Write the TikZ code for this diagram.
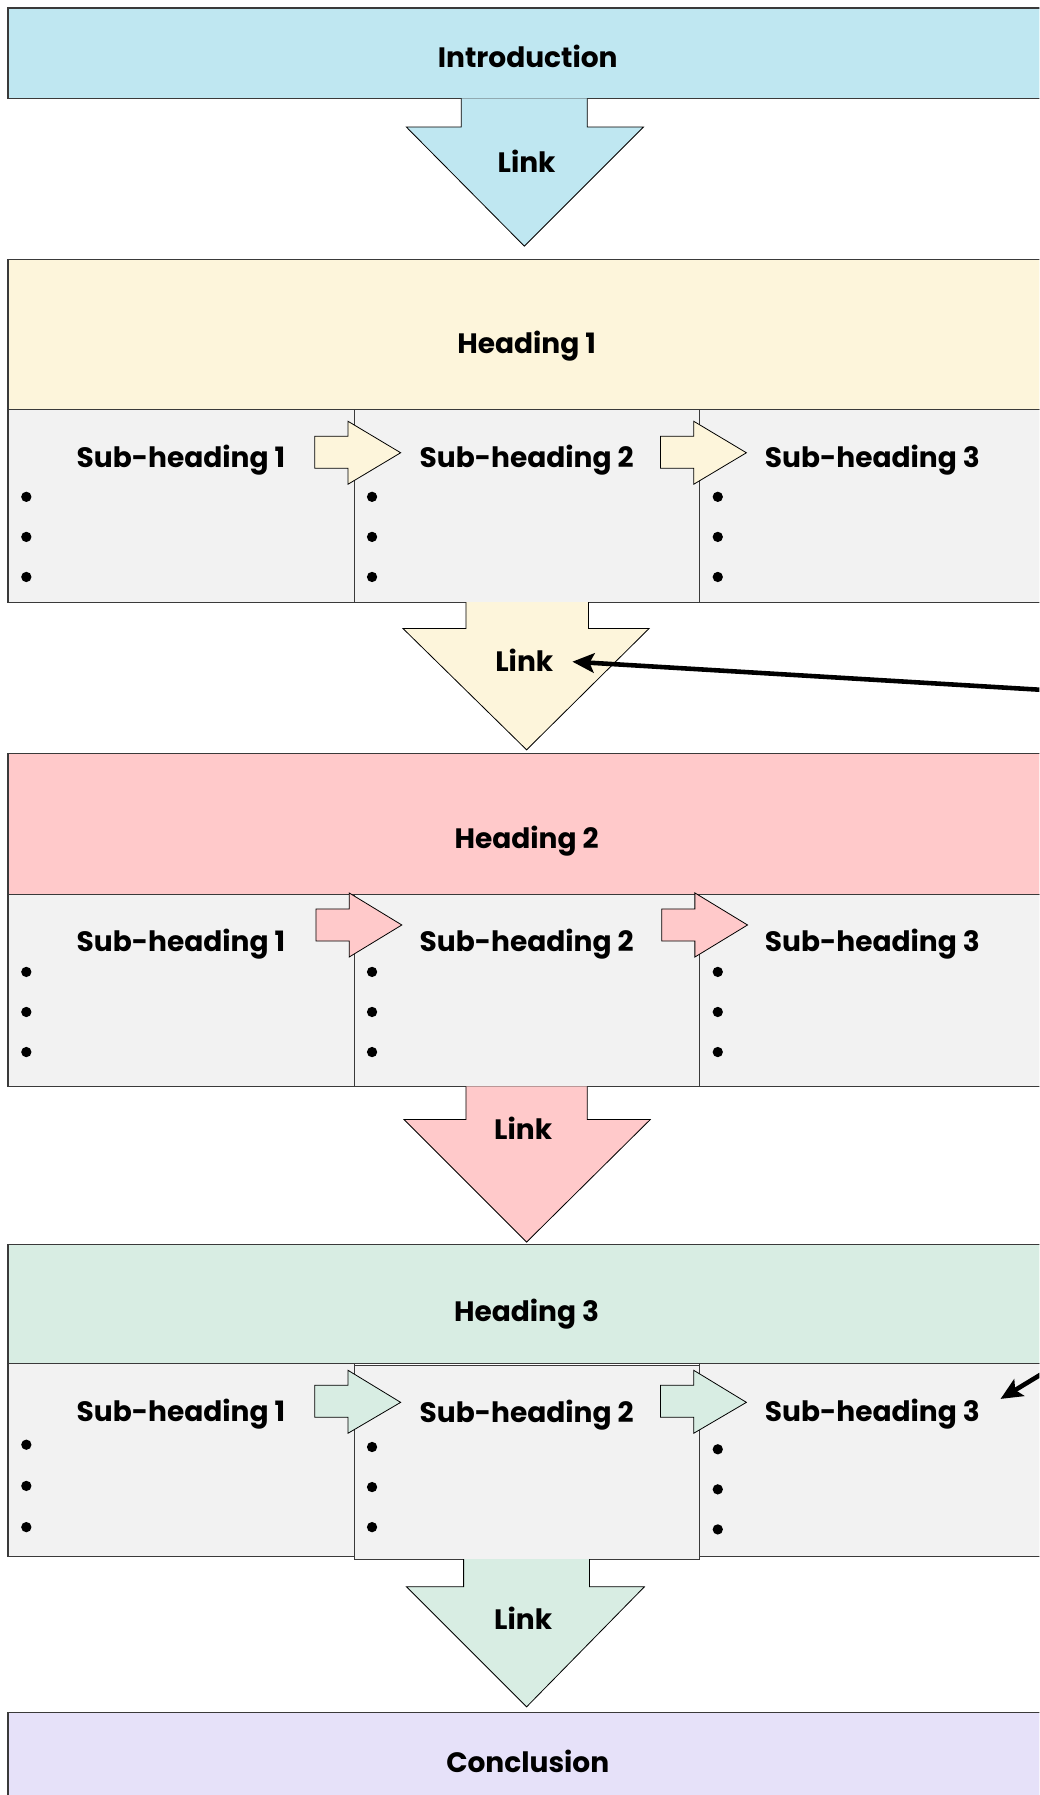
\documentclass[tikz,border=0pt]{standalone}
\usepackage{fontspec}
\setmainfont{Poppins}
\usetikzlibrary{arrows.meta}
\definecolor{cintro}{HTML}{BFE7F1}
\definecolor{cyel}{HTML}{FDF5DB}
\definecolor{cpink}{HTML}{FFC9CA}
\definecolor{cmint}{HTML}{D8EDE3}
\definecolor{clav}{HTML}{E6E1F9}
\definecolor{ccell}{HTML}{F2F2F2}
\definecolor{cline}{HTML}{3A3A3A}
\tikzset{
  boxshape/.style={draw=cline, line width=0.9pt, rectangle, inner sep=0pt},
  lbl/.style={font=\fontsize{24.5}{28}\selectfont\bfseries, inner sep=2pt, yshift=-2.5pt},
  dotb/.style={circle, fill=black, inner sep=0pt, minimum size=9pt},
  arrshape/.style={draw=black, line width=0.7pt, line join=miter},
  conn/.style={draw=black, line width=4pt, {Stealth[length=19pt,width=17pt,inset=4pt]}-{Stealth[length=19pt,width=17pt,inset=4pt]}}
}
\begin{document}
\begin{tikzpicture}[x=1pt,y=-1pt]
\clip (0,0) rectangle (908,1568);
\fill[white] (0,0) rectangle (908,1568);

% ---------- Introduction ----------
\node[boxshape, fill=cintro, minimum width=908pt, minimum height=79pt] (introbox) at (461,46.5) {};
\node[lbl] (intro) at (461,47) {Introduction};

% Link 1
\draw[arrshape, fill=cintro] (403,86) -- (403,111) -- (355,111) -- (458,215) -- (562,111) -- (513,111) -- (513,86);
\node[lbl] (link1) at (460,138) {Link};

% ---------- Heading 1 ----------
\node[boxshape, fill=cyel, minimum width=908pt, minimum height=130.5pt] (h1box) at (461,292.25) {};
\node[lbl] (h1) at (460,300) {Heading 1};
\node[boxshape, fill=ccell, minimum width=302.5pt, minimum height=168.5pt] (c11) at (158.25,441.75) {};
\node[boxshape, fill=ccell, minimum width=301.5pt, minimum height=168.5pt] (c12) at (460.25,441.75) {};
\node[boxshape, fill=ccell, minimum width=302pt, minimum height=168.5pt] (c13) at (762,441.75) {};
\node[lbl] (s11) at (158,399) {Sub-heading 1};
\node[lbl] (s12) at (460,399) {Sub-heading 2};
\node[lbl] (s13) at (762,399) {Sub-heading 3};
\foreach \xx in {0,302}{
  \draw[arrshape, fill=cyel] (275+\xx,381) -- (304+\xx,381) -- (304+\xx,368) -- (350+\xx,395.5) -- (304+\xx,423) -- (304+\xx,409) -- (275+\xx,409) -- cycle;
}
\foreach \xx in {23,325,627}{
  \foreach \yy in {434,469,504}{
    \node[dotb] at (\xx,\yy) {};
  }
}

% Link 2
\draw[arrshape, fill=cyel] (407,526) -- (407,549) -- (352,549) -- (460,655) -- (567,549) -- (514,549) -- (514,526);
\node[lbl] (link2) at (458,574) {Link};

% ---------- Heading 2 ----------
\node[boxshape, fill=cpink, minimum width=908pt, minimum height=123pt] (h2box) at (461,719.5) {};
\node[lbl] (h2) at (460,732) {Heading 2};
\node[boxshape, fill=ccell, minimum width=302.5pt, minimum height=168pt] (c21) at (158.25,865) {};
\node[boxshape, fill=ccell, minimum width=301.5pt, minimum height=168pt] (c22) at (460.25,865) {};
\node[boxshape, fill=ccell, minimum width=302pt, minimum height=168pt] (c23) at (762,865) {};
\node[lbl] (s21) at (158,822) {Sub-heading 1};
\node[lbl] (s22) at (460,822) {Sub-heading 2};
\node[lbl] (s23) at (762,822) {Sub-heading 3};
\foreach \xx in {0,302}{
  \draw[arrshape, fill=cpink] (276+\xx,794) -- (305+\xx,794) -- (305+\xx,780) -- (351+\xx,808) -- (305+\xx,836) -- (305+\xx,822) -- (276+\xx,822) -- cycle;
}
\foreach \xx in {23,325,627}{
  \foreach \yy in {849,884,919}{
    \node[dotb] at (\xx,\yy) {};
  }
}

% Link 3
\draw[arrshape, fill=cpink] (407,949) -- (407,978) -- (353,978) -- (460,1085) -- (568,978) -- (513,978) -- (513,949);
\node[lbl] (link3) at (457,983) {Link};

% ---------- Heading 3 ----------
\node[boxshape, fill=cmint, minimum width=908pt, minimum height=104pt] (h3box) at (461,1139) {};
\node[lbl] (h3) at (460,1145) {Heading 3};
\node[boxshape, fill=ccell, minimum width=302.5pt, minimum height=169pt] (c31) at (158.25,1275.5) {};
\node[boxshape, fill=ccell, minimum width=302pt, minimum height=169pt] (c33) at (762,1275.5) {};
\node[boxshape, fill=ccell, minimum width=301.5pt, minimum height=169pt] (c32) at (460.25,1277.5) {};
\node[lbl] (s31) at (158,1233) {Sub-heading 1};
\node[lbl] (s32) at (460,1234) {Sub-heading 2};
\node[lbl] (s33) at (762,1233) {Sub-heading 3};
\foreach \xx in {0,302}{
  \draw[arrshape, fill=cmint] (275+\xx,1210) -- (304+\xx,1210) -- (304+\xx,1197) -- (350+\xx,1225) -- (304+\xx,1252) -- (304+\xx,1238) -- (275+\xx,1238) -- cycle;
}
\foreach \yy in {1262,1298,1334}{ \node[dotb] at (23,\yy) {}; }
\foreach \yy in {1264,1299,1334}{ \node[dotb] at (325,\yy) {}; }
\foreach \yy in {1266,1301,1336}{ \node[dotb] at (627,\yy) {}; }

% Link 4
\draw[arrshape, fill=cmint] (405,1362) -- (405,1386) -- (355,1386) -- (460,1491) -- (563,1386) -- (515,1386) -- (515,1362);
\node[lbl] (link4) at (457,1411) {Link};

% ---------- Conclusion ----------
\node[boxshape, fill=clav, minimum width=908pt, minimum height=100pt] (conbox) at (461,1546) {};
\node[lbl] (concl) at (461,1536) {Conclusion};

% ---------- long connector (runs off the right edge) ----------
\coordinate (offa) at (1000,608);
\coordinate (offb) at (940,1182);
\draw[conn] ([shift={(42,1.5)}]link2.center) -- (offa) -- (offb) -- ([shift={(112,-13.5)}]s33.center);
\end{tikzpicture}
\end{document}
